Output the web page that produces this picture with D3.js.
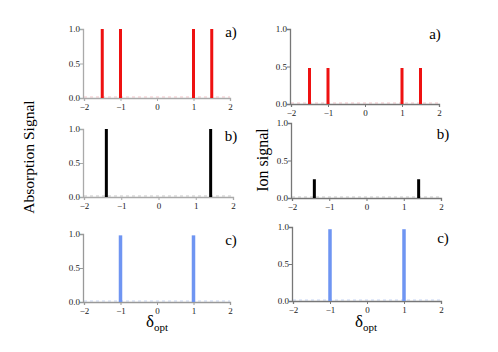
<!DOCTYPE html>
<html><head><meta charset="utf-8">
<script src="https://cdn.jsdelivr.net/npm/d3@7"></script>
<style>body{margin:0;background:#fff}svg{display:block}</style>
</head><body>
<svg id="c" width="498" height="352"></svg>
<script>
const xTicks = [-2, -1, 0, 1, 2];
const yTicks = [0, 0.5, 1.0];
const panelLabels = ["a)", "b)", "c)"];
const absAPos = [-1.5, -1, 1, 1.5], absAVal = [1, 1, 1, 1];
const absBPos = [-1.4, 1.4], absBVal = [1, 1];
const absCPos = [-1, 1], absCVal = [0.98, 0.98];
const ionAPos = [-1.5, -1, 1, 1.5], ionAVal = [0.48, 0.48, 0.48, 0.48];
const ionBPos = [-1.4, 1.4], ionBVal = [0.25, 0.25];
const ionCPos = [-1, 1], ionCVal = [0.97, 0.97];
const colors = ["#ee1111", "#000000", "#6f95f2"];
const baseColors = ["#f4c4c8", "#c8c8c8", "#c8d6f4"];
const SERIF = "'Times New Roman', 'Liberation Serif', serif";

const svg = d3.select("#c").style("font-family", SERIF);
const panels = [
  {x0:84,x1:230,y0:98,y1:29,pos:absAPos,val:absAVal,k:0,axis:"#aaa",lx:231,ly:37,bw:3},
  {x0:84,x1:233,y0:197,y1:129,pos:absBPos,val:absBVal,k:1,axis:"#aaa",lx:231,ly:141,bw:3},
  {x0:84,x1:230,y0:302,y1:234,pos:absCPos,val:absCVal,k:2,axis:"#999",lx:231,ly:245,bw:3.5},
  {x0:291,x1:439,y0:104,y1:29,pos:ionAPos,val:ionAVal,k:0,axis:"#777",lx:435,ly:39,bw:3},
  {x0:292,x1:441,y0:198,y1:123,pos:ionBPos,val:ionBVal,k:1,axis:"#777",lx:443,ly:139,bw:3},
  {x0:293,x1:441,y0:301,y1:227,pos:ionCPos,val:ionCVal,k:2,axis:"#777",lx:443,ly:243,bw:3.5}
];
panels.forEach(p => {
  const x = d3.scaleLinear().domain([-2, 2]).range([p.x0, p.x1]);
  const y = d3.scaleLinear().domain([0, 1]).range([p.y0, p.y1]);
  const g = svg.append("g");
  g.append("line").attr("x1", x(-2)).attr("x2", x(2)).attr("y1", y(0)-1).attr("y2", y(0)-1)
    .attr("stroke", baseColors[p.k]).attr("stroke-width", 1.2).attr("stroke-dasharray", "3,3");
  const xa = g.append("g").attr("transform", `translate(0,${y(0)})`)
    .call(d3.axisBottom(x).tickValues(xTicks).tickSize(3).tickFormat(d3.format("d")));
  const ya = g.append("g").attr("transform", `translate(${p.x0-1},0)`)
    .call(d3.axisLeft(y).tickValues(yTicks).tickSize(3).tickFormat(d3.format(".1f")));
  [xa, ya].forEach(a => {
    a.attr("font-family", SERIF).attr("font-size", 9);
    a.select(".domain").attr("stroke", p.axis).attr("stroke-width", 1.3);
    a.selectAll(".tick line").attr("stroke", p.axis);
    a.selectAll("text").attr("fill", "#222");
  });
  xa.selectAll("text").attr("dy", "0.9em").attr("y", 4);
  ya.selectAll("text").attr("x", -3);
  g.selectAll("rect.bar").data(p.pos.map((d, i) => [d, p.val[i]])).enter().append("rect")
    .attr("x", d => x(d[0]) - p.bw/2).attr("width", p.bw)
    .attr("y", d => y(d[1])).attr("height", d => y(0) - y(d[1]))
    .attr("fill", colors[p.k]);
  g.append("text").attr("x", p.lx).attr("y", p.ly).attr("text-anchor", "middle")
    .attr("font-size", 15).text(panelLabels[p.k]);
});
svg.append("text").attr("transform", "translate(34,157) rotate(-90)").attr("text-anchor", "middle")
  .attr("font-size", 15.5).text("Absorption Signal");
svg.append("text").attr("transform", "translate(268,160) rotate(-90)").attr("text-anchor", "middle")
  .attr("font-size", 16).text("Ion signal");
[157, 366].forEach(cx => {
  const t = svg.append("text").attr("x", cx).attr("y", 327).attr("text-anchor", "middle").attr("font-size", 17);
  t.append("tspan").text("δ");
  t.append("tspan").attr("dy", 4).attr("font-size", 11).text("opt");
});
</script>
</body></html>
